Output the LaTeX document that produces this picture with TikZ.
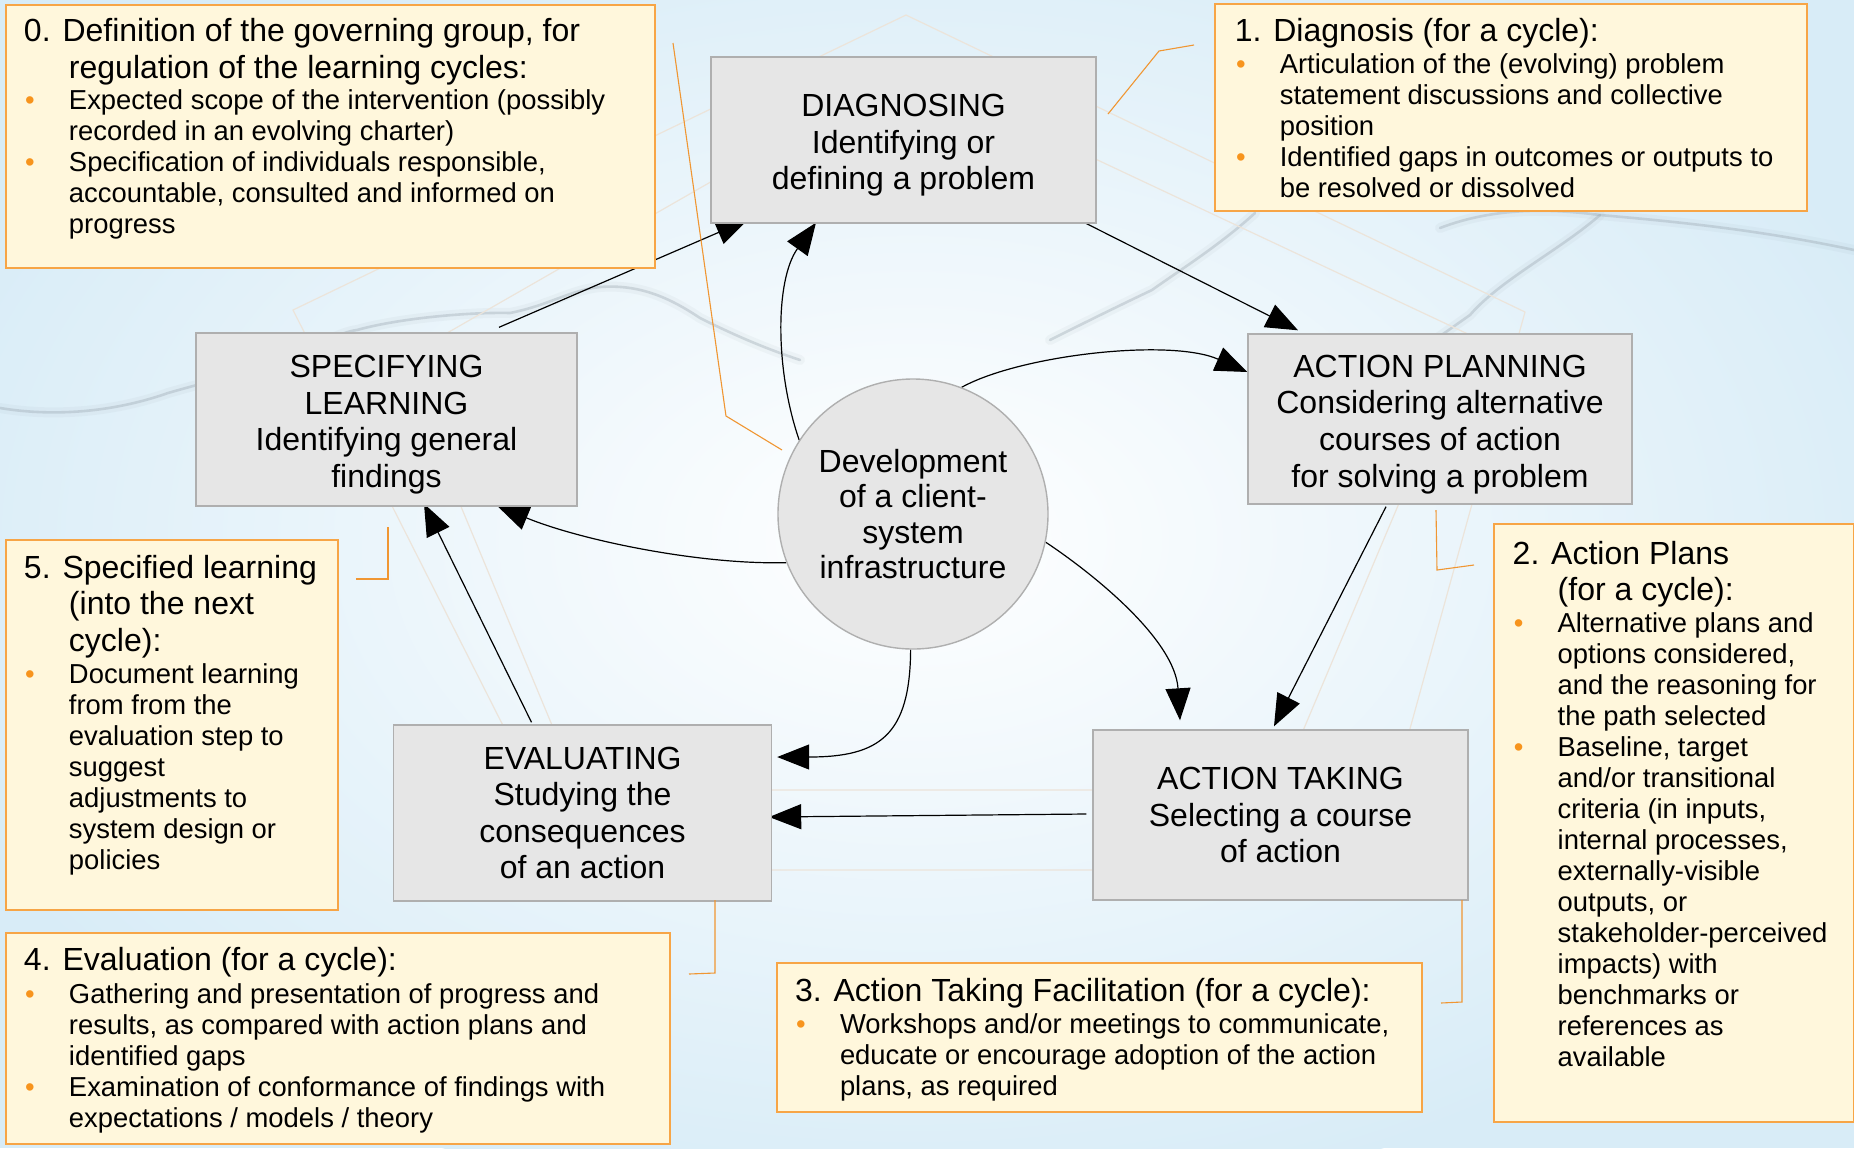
\documentclass[tikz,border=0pt]{standalone}
\usepackage{fontspec}
\setmainfont{Liberation Sans}
\usetikzlibrary{arrows.meta,calc}
\definecolor{bgblue}{RGB}{216,236,247}
\definecolor{boxgrey}{RGB}{230,230,230}
\definecolor{boxedge}{RGB}{175,175,175}
\definecolor{notefill}{RGB}{255,247,220}
\definecolor{noteedge}{RGB}{247,165,70}
\definecolor{bulorange}{RGB}{247,148,29}
\definecolor{calloutc}{RGB}{240,150,50}
\definecolor{streak}{RGB}{150,162,172}
\definecolor{ribbon}{RGB}{236,228,218}
\newcommand\titlf[1]{{\fontsize{16}{18.3}\selectfont\strut #1}}
\newcommand\titl[1]{{\fontsize{16}{18.3}\selectfont #1}}
\newcommand\bul{\makebox[22.5pt][l]{\hspace{0.6pt}\textcolor{bulorange}{•}}}
\newcommand\hind{\hspace*{22.5pt}}
\newcommand\tfix{\rule{0pt}{16.5pt}}
\pgfdeclarelayer{bglayer}
\pgfdeclarelayer{arrlayer}
\pgfsetlayers{bglayer,arrlayer,main}
\begin{document}
\begin{tikzpicture}[x=0.5pt,y=-0.5pt,
 stage/.style={draw=boxedge, fill=boxgrey, line width=0.7pt, inner sep=0pt, align=center, font=\fontsize{16}{18.3}\selectfont},
 hub/.style={circle, draw=boxedge, fill=boxgrey, line width=0.7pt, inner sep=0pt, minimum size=135pt, align=center, font=\fontsize{16}{17.8}\selectfont},
 note/.style={draw=noteedge, fill=notefill, line width=0.9pt, inner sep=0pt, anchor=north west},
 notetext/.style={inner sep=0pt, anchor=north west, align=left, font={\fontsize{13.7}{15.5}\selectfont\lineskiplimit=-20pt}},
 flow/.style={-{Triangle[length=16pt,width=12.5pt]}, line width=0.6pt},
 callout/.style={draw=calloutc, line width=0.55pt},
 wisp/.style={draw=streak, line width=1.3pt, opacity=0.35, line cap=round},
 halo/.style={draw=streak, line width=5pt, opacity=0.08, line cap=round},
 ribbonline/.style={draw=ribbon, line width=0.6pt, line join=round}]
\useasboundingbox (0,0) rectangle (1854,1148);
% stage boxes and hub
\node[stage, minimum width=192.5pt, minimum height=83pt] (diag) at (903.5,140) {\tfix DIAGNOSING\\Identifying or\\defining a problem};
\node[stage, minimum width=190.5pt, minimum height=86.5pt] (spec) at (386.5,419.5) {\tfix SPECIFYING\\LEARNING\\Identifying general\\findings};
\node[stage, minimum width=192pt, minimum height=85pt] (plan) at (1440,419) {\tfix ACTION PLANNING\\Considering alternative\\courses of action\\for solving a problem};
\node[stage, minimum width=187.5pt, minimum height=85pt] (take) at (1280.5,815) {ACTION TAKING\\Selecting a course\\of action};
\node[stage, minimum width=189pt, minimum height=88pt] (eval) at (582.5,813) {EVALUATING\\Studying the\\consequences\\of an action};
\node[hub] (dev) at (913,514) {Development\\of a client-\\system\\infrastructure};
% background
\begin{pgfonlayer}{bglayer}
\fill[bgblue] (0,0) rectangle (1854,1148);
\shade[inner color=white, outer color=bgblue] (913,540) ellipse [x radius=1050, y radius=680];
\foreach \s in {halo,wisp}{
\path[\s] (0,408) .. controls (60,418) and (120,410) .. (168,393) .. controls (220,378) and (260,370) .. (286,360) .. controls (320,345) and (340,332) .. (357,330) .. controls (400,318) and (470,312) .. (510,313) .. controls (550,305) and (570,290) .. (600,287) .. controls (640,284) and (670,298) .. (700,318) .. controls (740,338) and (770,350) .. (800,360);
\path[\s] (1440,228) .. controls (1500,205) and (1560,210) .. (1600,215) .. controls (1680,222) and (1760,230) .. (1854,250);
\path[\s] (1600,215) .. controls (1560,250) and (1500,280) .. (1470,315) .. controls (1420,350) and (1380,380) .. (1337,400);
\path[\s] (1255,213) .. controls (1220,245) and (1180,270) .. (1152,290) .. controls (1110,310) and (1080,325) .. (1050,340);
}
\path[ribbonline] (906,15) -- (1525,312) -- (1371,870) -- (576,870) -- (293,310) -- cycle;
\path[ribbonline] (906,70) -- (1470,335) -- (1278,790) -- (579,790) -- (400,360) -- cycle;
\end{pgfonlayer}
% callout lines
\coordinate (c0a) at (673,43); \coordinate (c0b) at (726,416); \coordinate (c0c) at (782,450);
\coordinate (c1a) at (1194,45); \coordinate (c1b) at (1159,51); \coordinate (c1c) at (1108,114);
\coordinate (c2a) at (1436,510); \coordinate (c2b) at (1437,570); \coordinate (c2c) at (1474,565);
\coordinate (c3a) at (1462,900); \coordinate (c3b) at (1462,1002); \coordinate (c3c) at (1441,1003);
\coordinate (c4a) at (715,900); \coordinate (c4b) at (715,973); \coordinate (c4c) at (689,974);
\coordinate (c5a) at (388,527); \coordinate (c5b) at (388,579); \coordinate (c5c) at (356,579);
\path[callout] (c0a) -- (c0b) -- (c0c);
\path[callout] (c1a) -- (c1b) -- (c1c);
\path[callout] (c2a) -- (c2b) -- (c2c);
\path[callout] (c3a) -- (c3b) -- (c3c);
\path[callout] (c4a) -- (c4b) -- (c4c);
\path[callout] (c5a) -- (c5b) -- (c5c);
% note boxes
\node[note, minimum width=324.5pt, minimum height=131.5pt] (b0) at (5,4) {};
\node[note, minimum width=296pt, minimum height=103.5pt] (b1) at (1214,3) {};
\node[note, minimum width=180pt, minimum height=299pt] (b2) at (1493,523) {};
\node[note, minimum width=322.5pt, minimum height=74.5pt] (b3) at (776,962) {};
\node[note, minimum width=332pt, minimum height=105.5pt] (b4) at (5,932) {};
\node[note, minimum width=166pt, minimum height=185pt] (b5) at (5,539) {};
\node[notetext] (t0) at (23.6,15.4) {\titlf{0. Definition of the governing group, for}\\[2.8pt]
\titl{\hind regulation of the learning cycles:}\\[0.3pt]
\bul Expected scope of the intervention (possibly\\
\hind recorded in an evolving charter)\\
\bul Specification of individuals responsible,\\
\hind accountable, consulted and informed on\\
\hind progress};
\node[notetext] (t1) at (1234.4,15.4) {\titlf{1. Diagnosis (for a cycle):}\\[0.5pt]
\bul Articulation of the (evolving) problem\\
\hind statement discussions and collective\\
\hind position\\
\bul Identified gaps in outcomes or outputs to\\
\hind be resolved or dissolved};
\node[notetext] (t2) at (1512.3,538) {\titlf{2. Action Plans}\\[2.8pt]
\titl{\hind(for a cycle):}\\[0.3pt]
\bul Alternative plans and\\
\hind options considered,\\
\hind and the reasoning for\\
\hind the path selected\\
\bul Baseline, target\\
\hind and/or transitional\\
\hind criteria (in inputs,\\
\hind internal processes,\\
\hind externally-visible\\
\hind outputs, or\\
\hind stakeholder-perceived\\
\hind impacts) with\\
\hind benchmarks or\\
\hind references as\\
\hind available};
\node[notetext] (t3) at (794.6,975.4) {\titlf{3. Action Taking Facilitation (for a cycle):}\\[0.3pt]
\bul Workshops and/or meetings to communicate,\\
\hind educate or encourage adoption of the action\\
\hind plans, as required};
\node[notetext] (t4) at (23.6,944.7) {\titlf{4. Evaluation (for a cycle):}\\[0.8pt]
\bul Gathering and presentation of progress and\\
\hind results, as compared with action plans and\\
\hind identified gaps\\
\bul Examination of conformance of findings with\\
\hind expectations / models / theory};
\node[notetext] (t5) at (23.6,552.2) {\titlf{5. Specified learning}\\[2.8pt]
\titl{\hind(into the next}\\[2.8pt]
\titl{\hind cycle):}\\[0.3pt]
\bul Document learning\\
\hind from from the\\
\hind evaluation step to\\
\hind suggest\\
\hind adjustments to\\
\hind system design or\\
\hind policies};
% flow arrows (beneath the boxes)
\begin{pgfonlayer}{arrlayer}
\draw[flow] ($(spec.north)+(112.5,-5)$) -- ($(diag.south)+(-155.5,-4)$);
\draw[flow] (dev.147.5) .. controls (775,370) and (775,280) .. ($(diag.south)+(-87.5,-1)$);
\draw[flow] ($(diag.south east)+(-14,-2)$) -- ($(plan.north)+(-142,-3)$);
\draw[flow] (dev.69.5) .. controls (1020,355) and (1170,338) .. ($(plan.west)+(0,-47)$);
\draw[flow] ($(plan.south)+(-54,2)$) -- ($(take.north)+(-6.5,-3)$);
\draw[flow] (dev.-12) .. controls (1095,575) and (1175,640) .. ($(take.north)+(-100.5,-9)$);
\draw[flow] ($(take.west)+(-6,-1)$) -- ($(eval.east)+(-3,4)$);
\draw[flow] (dev.-91) .. controls (910,735) and (880,757) .. ($(eval.east)+(5,-56)$);
\draw[flow] ($(eval.north)+(-51,-2)$) -- ($(spec.south)+(37.5,-3)$);
\draw[flow] (dev.201) .. controls (700,565) and (580,540) .. ($(spec.south)+(110.5,-1)$);
\end{pgfonlayer}
\end{tikzpicture}
\end{document}
